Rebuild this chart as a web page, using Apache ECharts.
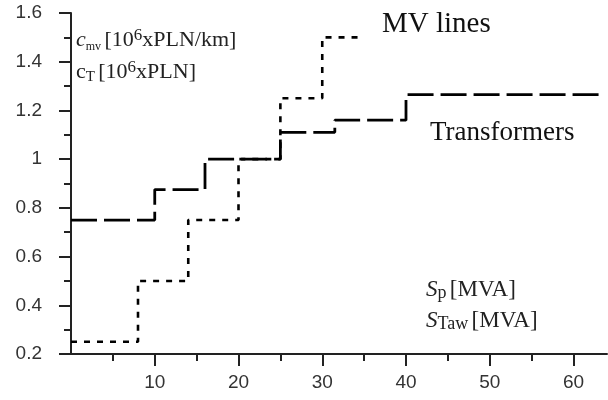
<!DOCTYPE html>
<html><head><meta charset="utf-8">
<script src="https://cdn.jsdelivr.net/npm/echarts@6/dist/echarts.min.js"></script>
<style>html,body{margin:0;padding:0;background:#fff}#c{width:608px;height:400px}</style>
</head><body><div id="c"></div>
<script>
// MV lines (dotted): start of each step and its level
const mvBreaks = [0, 8, 14, 20, 25, 30, 35];
const mvLevels = [0.25, 0.5, 0.75, 1.0, 1.25, 1.5, 1.5];
// Transformers (long dash)
const trBreaks = [0, 10, 16, 25, 31.5, 40, 63];
const trLevels = [0.75, 0.875, 1.0, 1.11, 1.16, 1.265, 1.265];
// axis ticks
const xMajorTicks = [10, 20, 30, 40, 50, 60];
const xMinorTicks = [5, 15, 25, 35, 45, 55];
const yMin = 0.2, yMax = 1.6, yStep = 0.2;

const serif = '"Liberation Serif", "Times New Roman", serif';
const sans = '"Liberation Sans", Arial, sans-serif';
const axisColor = '#222';

const chart = echarts.init(document.getElementById('c'), null, {renderer: 'canvas'});
const mk = (b, l) => b.map((x, i) => [x, l[i]]);

const baseX = {
  type: 'value', min: 0, max: 64, interval: 10,
  position: 'bottom',
  splitLine: {show: false},
};
chart.setOption({
  animation: false,
  grid: {left: 71, right: 1, top: 13, bottom: 46, containLabel: false},
  xAxis: [
    Object.assign({}, baseX, {
      axisLine: {onZero: false, lineStyle: {color: axisColor, width: 2}},
      axisTick: {length: 12, lineStyle: {color: axisColor, width: 2}, customValues: xMajorTicks},
      axisLabel: {customValues: xMajorTicks, fontSize: 19, fontFamily: sans, color: '#333', margin: 19}
    }),
    Object.assign({}, baseX, {
      axisLine: {show: false, onZero: false},
      axisTick: {length: 7, lineStyle: {color: axisColor, width: 2}, customValues: xMinorTicks},
      axisLabel: {show: false}
    })
  ],
  yAxis: {
    type: 'value', min: yMin, max: yMax, interval: yStep,
    position: 'left', offset: 10,
    splitLine: {show: false},
    axisLine: {show: true, lineStyle: {color: axisColor, width: 2}},
    axisTick: {show: true, length: 12, lineStyle: {color: axisColor, width: 2}},
    minorTick: {show: true, splitNumber: 2, length: 7, lineStyle: {color: axisColor, width: 2}},
    axisLabel: {fontSize: 19, fontFamily: sans, color: '#333', margin: 19}
  },
  series: [
    {type: 'line', step: 'end', data: mk(mvBreaks, mvLevels), showSymbol: false, symbol: 'none',
     lineStyle: {color: '#000', width: 2.6, type: [6, 7], cap: 'butt'}},
    {type: 'line', step: 'end', data: mk(trBreaks, trLevels), showSymbol: false, symbol: 'none',
     lineStyle: {color: '#000', width: 2.8, type: [26, 7], cap: 'butt'}}
  ],
  graphic: [
    {type: 'text', left: 76, top: 27, style: {
      text: '{ci|c}{sub|mv} {n|[10}{sup|6}{n|xPLN/km]}',
      rich: {
        ci: {fontFamily: serif, fontStyle: 'italic', fontSize: 22, lineHeight: 26, fill: '#222'},
        n: {fontFamily: serif, fontSize: 22, lineHeight: 26, fill: '#222'},
        sub: {fontFamily: serif, fontSize: 12, lineHeight: 12, verticalAlign: 'bottom', fill: '#222'},
        sup: {fontFamily: serif, fontSize: 17, lineHeight: 17, verticalAlign: 'top', fill: '#222'}
      }}},
    {type: 'text', left: 76, top: 59, style: {
      text: '{n|c}{sub|T} {n|[10}{sup|6}{n|xPLN]}',
      rich: {
        n: {fontFamily: serif, fontSize: 22, lineHeight: 26, fill: '#222'},
        sub: {fontFamily: serif, fontSize: 15, lineHeight: 15, verticalAlign: 'bottom', fill: '#222'},
        sup: {fontFamily: serif, fontSize: 17, lineHeight: 17, verticalAlign: 'top', fill: '#222'}
      }}},
    {type: 'text', left: 382, top: 10, style: {text: 'MV lines', font: '29px ' + serif, fill: '#111'}},
    {type: 'text', left: 430, top: 119, style: {text: 'Transformers', font: '27px ' + serif, fill: '#111'}},
    {type: 'text', left: 426, top: 278, style: {
      text: '{si|S}{sub|p} {n|[MVA]}',
      rich: {
        si: {fontFamily: serif, fontStyle: 'italic', fontSize: 23, lineHeight: 26, fill: '#222'},
        n: {fontFamily: serif, fontSize: 23, lineHeight: 26, fill: '#222'},
        sub: {fontFamily: serif, fontSize: 18, lineHeight: 18, verticalAlign: 'bottom', fill: '#222'}
      }}},
    {type: 'text', left: 426, top: 309, style: {
      text: '{si|S}{sub|Taw} {n|[MVA]}',
      rich: {
        si: {fontFamily: serif, fontStyle: 'italic', fontSize: 23, lineHeight: 26, fill: '#222'},
        n: {fontFamily: serif, fontSize: 23, lineHeight: 26, fill: '#222'},
        sub: {fontFamily: serif, fontSize: 18, lineHeight: 18, verticalAlign: 'bottom', fill: '#222'}
      }}}
  ]
});
</script></body></html>
